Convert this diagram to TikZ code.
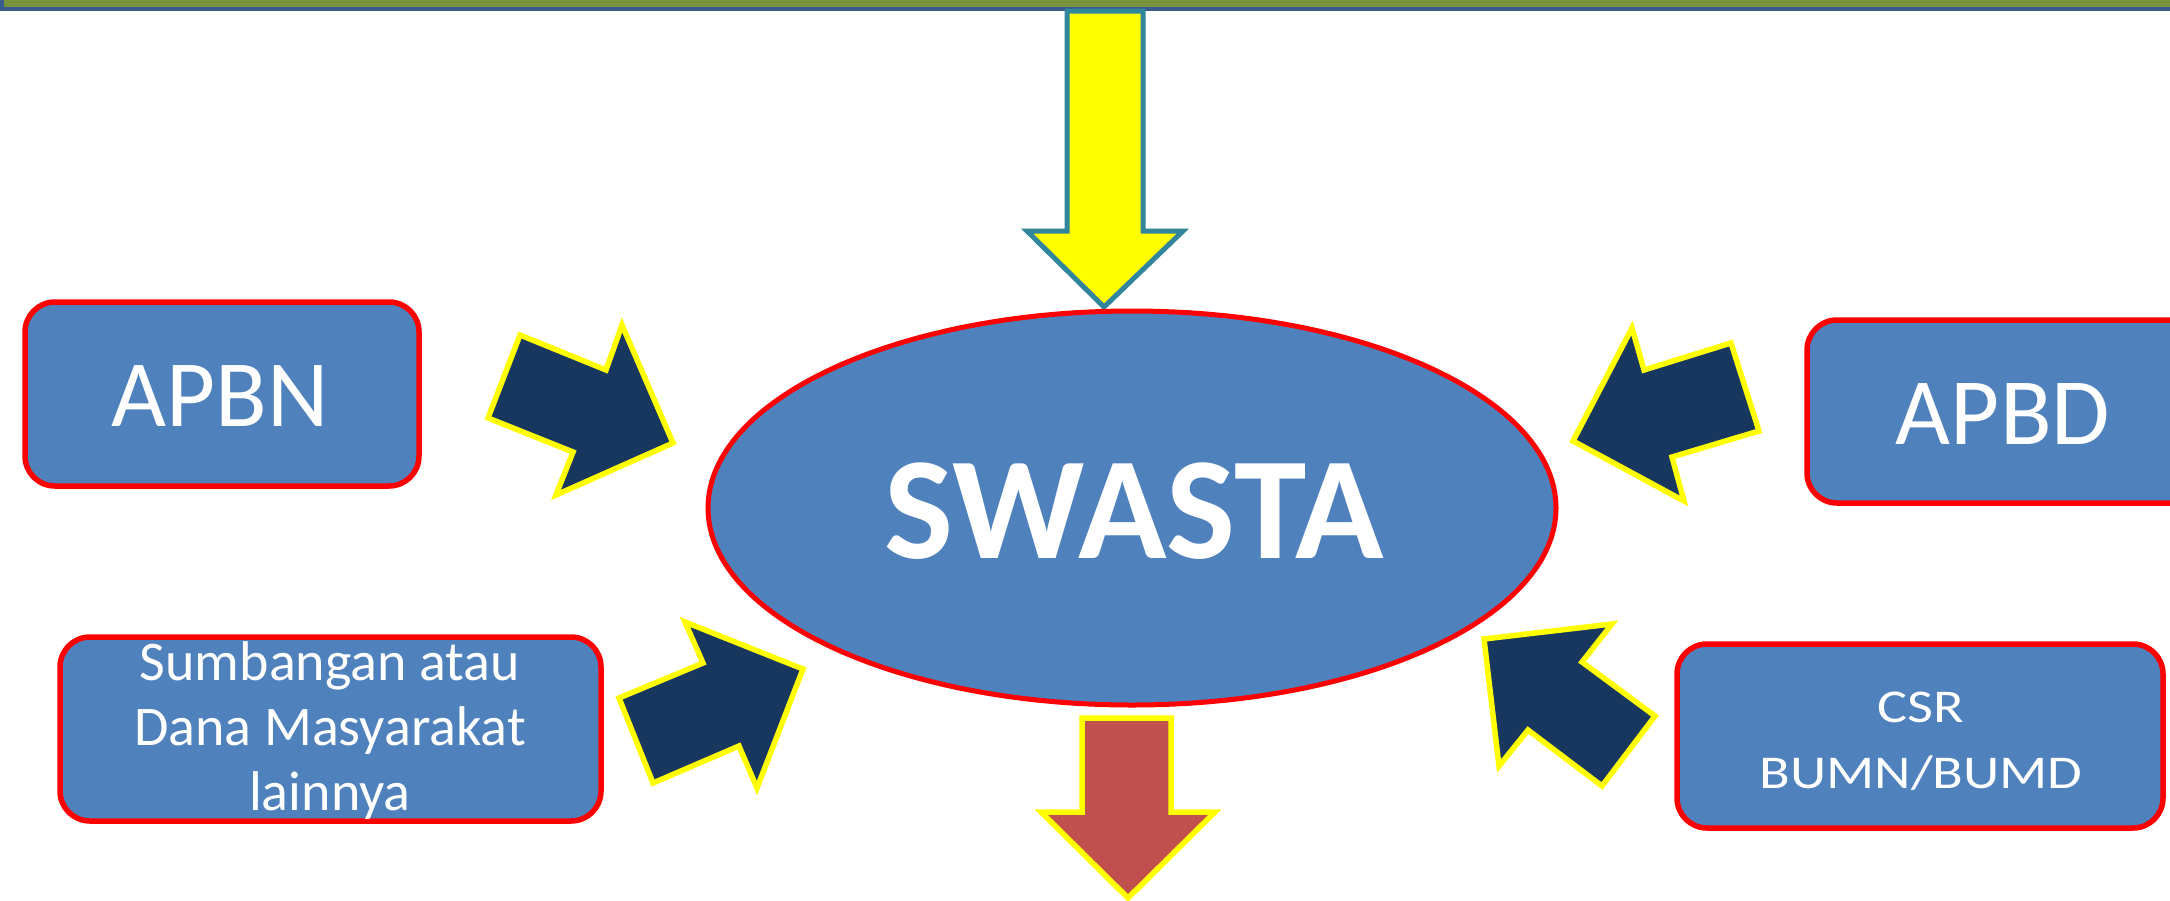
\documentclass[tikz,border=0pt]{standalone}
\usepackage{fontspec}
\usepackage{graphicx}
\setmainfont{Carlito}
\usetikzlibrary{shapes.geometric}
\definecolor{boxblue}{HTML}{4F81BD}
\definecolor{navyarrow}{HTML}{17375E}
\definecolor{tealline}{HTML}{31859C}
\definecolor{olivebar}{HTML}{77933C}
\definecolor{barblue}{HTML}{385D8A}
\definecolor{brickred}{HTML}{C0504D}
\definecolor{pptred}{HTML}{FF0000}
\definecolor{pptyellow}{HTML}{FFFF00}
\tikzset{
  srcbox/.style={draw=pptred, fill=boxblue, line width=5.5pt, rounded corners=30pt, inner sep=0pt},
  blockarrow/.style={fill=navyarrow, draw=pptyellow, line width=5.5pt, line join=miter},
  boxtext/.style={text=white, anchor=base, inner sep=0pt},
}
\begin{document}
\begin{tikzpicture}[x=1pt,y=-1pt]
\useasboundingbox (0,0) rectangle (2170,900);
\fill[white] (0,0) rectangle (2170,900);
% top bar
\draw[fill=olivebar, draw=barblue, line width=4pt] (2,-30) rectangle (2200,9);
% yellow arrow from top
\draw[fill=pptyellow, draw=tealline, line width=5pt, line join=miter]
  (1067,11) -- (1143,11) -- (1143,231) -- (1183,231) -- (1104,307) -- (1027,231) -- (1067,231) -- cycle;
% central ellipse
\node[ellipse, draw=pptred, fill=boxblue, line width=5pt, minimum width=848pt, minimum height=394pt, inner sep=0pt] (swasta) at (1132,508) {};
\node[boxtext, font={\fontsize{146}{170}\selectfont\bfseries}] (swastatext) at (1134,558) {SWASTA};
% bottom red arrow
\draw[fill=brickred, draw=pptyellow, line width=5.5pt, line join=miter]
  (1082,718) -- (1171,718) -- (1171,812) -- (1215,812) -- (1128,898) -- (1041,812) -- (1082,812) -- cycle;
% source boxes
\node[srcbox, minimum width=394pt, minimum height=184pt] (apbn) at (222,394) {};
\node[boxtext, font={\fontsize{95}{110}\selectfont}] (apbntext) at (220,426) {APBN};
\node[srcbox, minimum width=420pt, minimum height=183pt] (apbd) at (2017,411.5) {};
\node[boxtext, font={\fontsize{95}{110}\selectfont}] (apbdtext) at (2003,444) {APBD};
\node[srcbox, minimum width=541pt, minimum height=184pt] (sumb) at (330.5,729) {};
\node[boxtext, font={\fontsize{56}{66}\selectfont}] (sumb1) at (330,680) {Sumbangan atau};
\node[boxtext, font={\fontsize{56}{66}\selectfont}] (sumb2) at (330,745) {Dana Masyarakat};
\node[boxtext, font={\fontsize{56}{66}\selectfont}] (sumb3) at (330,810) {lainnya};
\node[srcbox, minimum width=486pt, minimum height=184pt] (csr) at (1920,736) {};
\node[boxtext, font={\fontsize{47}{56}\selectfont}] (csr1) at (1921,722) {\scalebox{1.2}[1]{CSR}};
\node[boxtext, font={\fontsize{47}{56}\selectfont}] (csr2) at (1921,788) {\scalebox{1.2}[1]{BUMN/BUMD}};
% dark block arrows
\draw[blockarrow] (520,335) -- (606,370) -- (622,325) -- (673,443) -- (556,495) -- (573,452) -- (488,418) -- cycle;
\draw[blockarrow] (1632,328) -- (1644,370) -- (1731,343) -- (1759,431) -- (1672,457) -- (1684,501) -- (1573,441) -- cycle;
\draw[blockarrow] (685,622) -- (703,663) -- (619,698) -- (653,783) -- (739,746) -- (757,788) -- (803,669) -- cycle;
\draw[blockarrow] (1484,639) -- (1612,624) -- (1582,662) -- (1655,716) -- (1602,786) -- (1528,730) -- (1499,766) -- cycle;
\end{tikzpicture}
\end{document}
